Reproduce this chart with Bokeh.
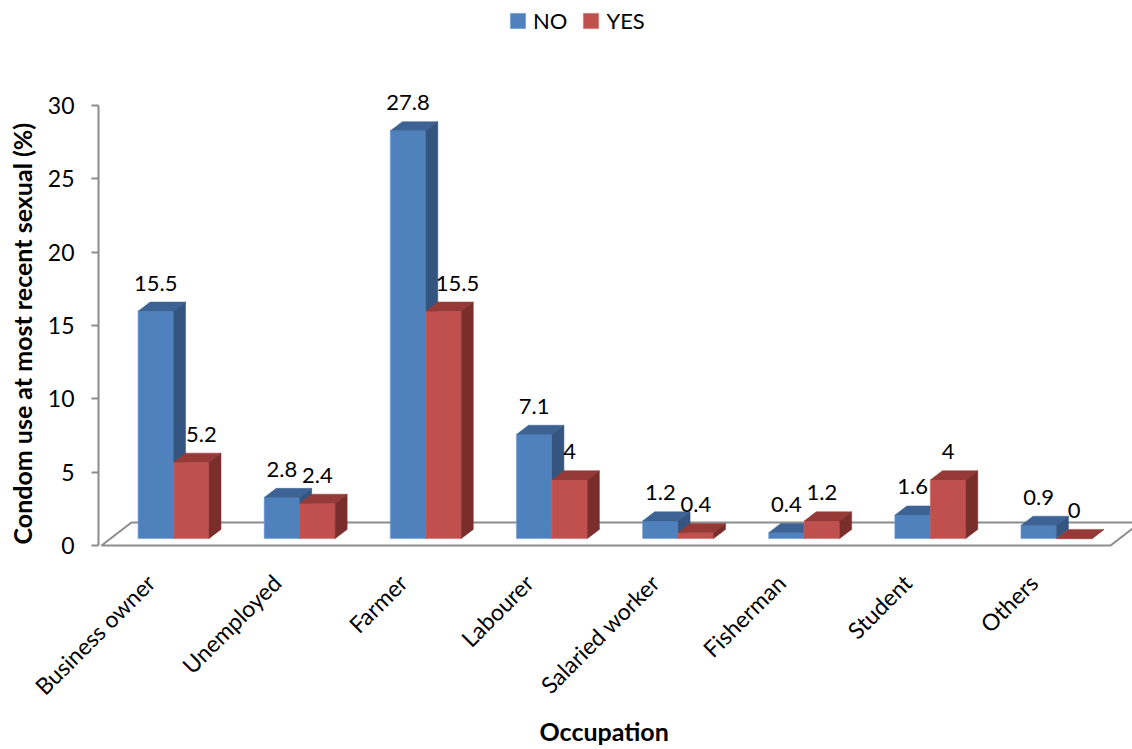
import math
from bokeh.plotting import figure
from bokeh.models import (Range1d, FixedTicker, Legend, LegendItem, ColumnDataSource, Title)
from bokeh.core.properties import value
from bokeh.embed import file_html
from bokeh.resources import INLINE

# ---------------- data ----------------
occupations = ["Business owner", "Unemployed", "Farmer", "Labourer",
               "Salaried worker", "Fisherman", "Student", "Others"]
no_values = [15.5, 2.8, 27.8, 7.1, 1.2, 0.4, 1.6, 0.9]
yes_values = [5.2, 2.4, 15.5, 4.0, 0.4, 1.2, 4.0, 0.0]
y_ticks = [0, 5, 10, 15, 20, 25, 30]

# ---------------- layout (pixels) ----------------
W, H = 1132, 749
FRAME_L, FRAME_T, FRAME_B = 97, 0, 550
X0_PX, PX_PER_CAT = 100.0, 126.25
Y0_PX, PX_PER_UNIT = 545.0, 14.667
DEPTH_X_PX, DEPTH_Y_PX = 30.0, 23.0
BAR_W_PX = 35.5
F0, F1 = 0.30, 0.70           # bar depth placement within floor depth
LABEL_NUDGE = {("YES", 0): 10, ("YES", 2): 14}
XLABEL_SHIFT_PX = -14

FONT = "Lato"
GRAY = "#8c8c8c"
COLORS = {
    "NO": ("#4f81bd", "#3d6394", "#34557f"),
    "YES": ("#c0504d", "#963a38", "#7a2e2c"),
}

DX = DEPTH_X_PX / PX_PER_CAT
DY = DEPTH_Y_PX / PX_PER_UNIT
BW = BAR_W_PX / PX_PER_CAT
n = len(occupations)

p = figure(width=W, height=H,
           x_range=Range1d((FRAME_L - X0_PX) / PX_PER_CAT, (W - X0_PX) / PX_PER_CAT),
           y_range=Range1d(-(FRAME_B - Y0_PX) / PX_PER_UNIT, (Y0_PX - FRAME_T) / PX_PER_UNIT),
           output_backend="svg", toolbar_location=None,
           min_border_left=FRAME_L, min_border_right=0, min_border_top=FRAME_T,
           min_border_bottom=H - FRAME_B)
p.outline_line_color = None
p.xgrid.visible = False
p.ygrid.visible = False
p.background_fill_color = "white"
p.border_fill_color = "white"

# floor
p.patch([0, n, n + DX, DX], [0, 0, DY, DY], fill_color="white",
        line_color=GRAY, line_width=2)

ox, oy = F0 * DX, F0 * DY
d = F1 - F0
renderers = {}
label_x, label_y, label_t, label_dx = [], [], [], []
for s, (name, vals) in enumerate([("NO", no_values), ("YES", yes_values)]):
    front_c, top_c, side_c = COLORS[name]
    lefts = [i + 0.5 - BW + s * BW + ox for i in range(n)]
    rights = [l + BW for l in lefts]
    tops = [v + oy for v in vals]
    src = ColumnDataSource(dict(left=lefts, right=rights, bottom=[oy] * n, top=tops))
    r = p.quad(left="left", right="right", bottom="bottom", top="top", source=src,
               fill_color=front_c, line_color="#6f9bd1" if name == "NO" else "#cf6f6c",
               line_width=0.6)
    renderers[name] = r
    top_xs = [[l, rr, rr + d * DX, l + d * DX] for l, rr in zip(lefts, rights)]
    top_ys = [[t, t, t + d * DY, t + d * DY] for t in tops]
    p.patches(top_xs, top_ys, fill_color=top_c, line_color=top_c, line_width=0.5)
    side_xs = [[rr, rr + d * DX, rr + d * DX, rr] for rr in rights]
    side_ys = [[oy, oy + d * DY, t + d * DY, t] for t in tops]
    p.patches(side_xs, side_ys, fill_color=side_c, line_color=side_c, line_width=0.5)
    for i, v in enumerate(vals):
        label_x.append(lefts[i] + BW / 2)
        label_y.append(tops[i] + d * DY)
        label_t.append(f"{v:g}")
        label_dx.append(LABEL_NUDGE.get((name, i), 0))

lab_src = ColumnDataSource(dict(x=label_x, y=label_y, t=label_t, dx=label_dx))
p.text(x="x", y="y", text="t", x_offset="dx", y_offset=-19, source=lab_src,
       text_align="center", text_baseline="alphabetic",
       text_font=value(FONT), text_font_size="22px", text_color="black")

# y axis
ya = p.yaxis[0]
ya.bounds = (0, 30)
ya.ticker = FixedTicker(ticks=y_ticks)
ya.axis_line_color = GRAY
ya.axis_line_width = 2
ya.major_tick_line_color = GRAY
ya.major_tick_line_width = 2
ya.major_tick_out = 7
ya.major_tick_in = 0
ya.minor_tick_line_color = None
ya.major_label_text_font = FONT
ya.major_label_text_font_size = "23px"
ya.major_label_text_color = "black"
ya.major_label_standoff = 17

# x axis
shift = XLABEL_SHIFT_PX / PX_PER_CAT
xticks = [round(i + 0.5 + shift, 4) for i in range(n)]
xa = p.xaxis[0]
xa.bounds = (0, n)
xa.ticker = FixedTicker(ticks=xticks)
xa.major_label_overrides = {t: occ for t, occ in zip(xticks, occupations)}
xa.major_label_orientation = math.pi / 4
xa.axis_line_color = None
xa.major_tick_line_color = None
xa.minor_tick_line_color = None
xa.major_label_text_font = FONT
xa.major_label_text_font_size = "23px"
xa.major_label_text_color = "black"
xa.major_label_standoff = 22

# axis titles as side-panel titles so they can be placed along the axis
ytitle = Title(text="Condom use at most recent sexual (%)", align="left", offset=6,
               vertical_align="top", standoff=12,
               text_font=FONT, text_font_style="bold", text_font_size="25px",
               text_color="black")
p.add_layout(ytitle, "left")
xtitle = Title(text="Occupation", align="left", offset=538 - FRAME_L,
               vertical_align="bottom", standoff=0,
               text_font=FONT, text_font_style="bold", text_font_size="25px",
               text_color="black")
p.add_layout(xtitle, "below")

legend = Legend(items=[LegendItem(label="NO", renderers=[renderers["NO"]]),
                       LegendItem(label="YES", renderers=[renderers["YES"]])],
                orientation="horizontal", location=(410, 516),
                glyph_width=19, glyph_height=19, label_standoff=6, spacing=14,
                padding=0, margin=0, border_line_color=None,
                background_fill_alpha=0,
                label_text_font=FONT, label_text_font_size="22px",
                label_text_color="black")
p.add_layout(legend)

open("out.html", "w").write(file_html(p, INLINE))
